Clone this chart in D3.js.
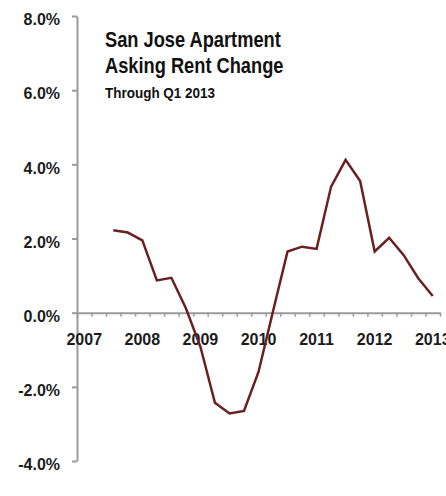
<!DOCTYPE html>
<html>
<head>
<meta charset="utf-8">
<script src="https://cdn.jsdelivr.net/npm/d3@7/dist/d3.min.js"></script>
<style>
  html, body { margin: 0; padding: 0; background: #fff; }
  svg { display: block; }
  .tick-label { font-family: "Liberation Sans", Arial, sans-serif; font-weight: bold; font-size: 16px; fill: #1c1c1c; }
  .title { font-family: "Liberation Sans", Arial, sans-serif; font-weight: bold; fill: #111; }
</style>
</head>
<body>
<svg id="chart" width="446" height="496"></svg>
<script>
// Quarterly categories, Q1 2007 through Q1 2013
const quarters = [
  "2007Q1","2007Q2","2007Q3","2007Q4",
  "2008Q1","2008Q2","2008Q3","2008Q4",
  "2009Q1","2009Q2","2009Q3","2009Q4",
  "2010Q1","2010Q2","2010Q3","2010Q4",
  "2011Q1","2011Q2","2011Q3","2011Q4",
  "2012Q1","2012Q2","2012Q3","2012Q4",
  "2013Q1"
];

// Year-over-year asking rent change (%), null where no value
const rentChange = [
  null, null, 2.22, 2.16,
  1.95, 0.87, 0.94, 0.12,
  -0.92, -2.43, -2.72, -2.65,
  -1.60, 0.04, 1.65, 1.78,
  1.72, 3.40, 4.12, 3.55,
  1.65, 2.02, 1.55, 0.93,
  0.45
];

const yTicks = [-4, -2, 0, 2, 4, 6, 8];
const yearLabels = ["2007", "2008", "2009", "2010", "2011", "2012", "2013"];

const titleLines = ["San Jose Apartment", "Asking Rent Change"];
const subtitle = "Through Q1 2013";

const svg = d3.select("#chart");

const x = d3.scaleBand().domain(quarters).range([77, 440]).padding(0);
const xEdge = d3.scaleLinear().domain([0, quarters.length]).range([77, 440]);
const y = d3.scaleLinear().domain([-4, 8]).range([461, 16]);

const axisColor = "#9b9b9b";

// Vertical axis with left-pointing ticks
const yAxis = svg.append("g")
  .attr("transform", "translate(77,0)")
  .call(d3.axisLeft(y).tickValues(yTicks).tickSize(5).tickSizeOuter(0).tickPadding(12)
    .tickFormat(d => (d < 0 ? "-" : "") + Math.abs(d).toFixed(1) + "%"));
yAxis.select(".domain").attr("stroke", axisColor).attr("stroke-width", 2);
yAxis.selectAll(".tick line").attr("stroke", axisColor).attr("stroke-width", 2);
yAxis.selectAll(".tick text").attr("class", "tick-label").attr("dy", "0.55em")
  .attr("font-family", null).attr("font-size", null);

// Zero line with quarterly ticks hanging below
const xAxis = svg.append("g")
  .attr("transform", `translate(0,${y(0)})`)
  .call(d3.axisBottom(xEdge).tickValues(d3.range(0, quarters.length + 1)).tickSize(4).tickSizeOuter(0).tickFormat(""));
xAxis.select(".domain").attr("stroke", axisColor).attr("stroke-width", 2);
xAxis.selectAll(".tick line").attr("stroke", axisColor).attr("stroke-width", 1.5);

// Year labels centred on each year's first quarter
svg.append("g").selectAll("text")
  .data(yearLabels)
  .join("text")
  .attr("class", "tick-label")
  .attr("x", d => x(d + "Q1") + x.bandwidth() / 2)
  .attr("y", 345)
  .attr("text-anchor", "middle")
  .text(d => d);

// Rent change line
const line = d3.line()
  .defined(d => d.v !== null)
  .x(d => x(d.q) + x.bandwidth() / 2)
  .y(d => y(d.v));

svg.append("path")
  .datum(quarters.map((q, i) => ({ q, v: rentChange[i] })))
  .attr("fill", "none")
  .attr("stroke", "#6a2020")
  .attr("stroke-width", 2.5)
  .attr("stroke-linejoin", "miter")
  .attr("d", line);

// Title block, horizontally condensed
svg.selectAll(".title-line")
  .data(titleLines)
  .join("text")
  .attr("class", "title")
  .attr("transform", (d, i) => `translate(105,${47 + i * 26}) scale(0.83,1)`)
  .attr("font-size", 22)
  .text(d => d);

svg.append("text")
  .attr("class", "title")
  .attr("transform", "translate(105,98) scale(0.87,1)")
  .attr("font-size", 15.5)
  .text(subtitle);
</script>
</body>
</html>
